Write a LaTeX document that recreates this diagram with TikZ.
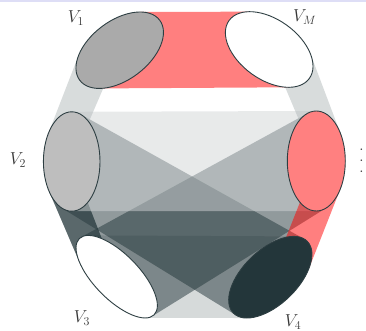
\documentclass[tikz,border=0pt]{standalone}
\usepackage{xcolor}
\definecolor{slate}{RGB}{35,54,58}
\definecolor{edgec}{RGB}{45,62,66}
\definecolor{lblc}{RGB}{55,55,55}
\definecolor{topline}{RGB}{222,222,246}
\definecolor{grayA}{RGB}{170,170,170}
\definecolor{grayB}{RGB}{190,190,190}
\definecolor{pinkc}{RGB}{255,128,128}

\newcommand\defell[6]{%
  \expandafter\def\csname ellx#1\endcsname{#2}%
  \expandafter\def\csname elly#1\endcsname{#3}%
  \expandafter\def\csname ella#1\endcsname{#4}%
  \expandafter\def\csname ellb#1\endcsname{#5}%
  \expandafter\def\csname ellt#1\endcsname{#6}}

\newcommand\suppt[3]{%
  \edef\eth{\csname ellt#1\endcsname}%
  \edef\ea{\csname ella#1\endcsname}%
  \edef\eb{\csname ellb#1\endcsname}%
  \edef\ecx{\csname ellx#1\endcsname}%
  \edef\ecy{\csname elly#1\endcsname}%
  \pgfmathsetmacro\cth{cos(\eth)}%
  \pgfmathsetmacro\sth{sin(\eth)}%
  \pgfmathsetmacro\nlx{(#2)*\cth+(#3)*\sth}%
  \pgfmathsetmacro\nly{-(#2)*\sth+(#3)*\cth}%
  \pgfmathsetmacro\den{sqrt((\ea*\nlx)^2+(\eb*\nly)^2)}%
  \pgfmathsetmacro\plx{\ea*\ea*\nlx/\den}%
  \pgfmathsetmacro\ply{\eb*\eb*\nly/\den}%
  \pgfmathsetmacro\spx{\ecx+\plx*\cth-\ply*\sth}%
  \pgfmathsetmacro\spy{\ecy+\plx*\sth+\ply*\cth}}

\newcommand\tangiter[3]{%
  \pgfmathsetmacro\dl{veclen(\ddx,\ddy)}%
  \pgfmathsetmacro\nnx{-(#3)*(\ddy)/\dl}%
  \pgfmathsetmacro\nny{(#3)*(\ddx)/\dl}%
  \suppt{#1}{\nnx}{\nny}\let\tAx\spx\let\tAy\spy
  \suppt{#2}{\nnx}{\nny}\let\tBx\spx\let\tBy\spy
  \pgfmathsetmacro\ddx{\tBx-(\tAx)}%
  \pgfmathsetmacro\ddy{\tBy-(\tAy)}}

\newcommand\tangside[3]{%
  \edef\xa{\csname ellx#1\endcsname}\edef\ya{\csname elly#1\endcsname}%
  \edef\xb{\csname ellx#2\endcsname}\edef\yb{\csname elly#2\endcsname}%
  \pgfmathsetmacro\ddx{\xb-(\xa)}%
  \pgfmathsetmacro\ddy{\yb-(\ya)}%
  \tangiter{#1}{#2}{#3}\tangiter{#1}{#2}{#3}\tangiter{#1}{#2}{#3}%
  \tangiter{#1}{#2}{#3}\tangiter{#1}{#2}{#3}\tangiter{#1}{#2}{#3}}

% full band: convex hull of the two ellipses
\newcommand\band[3]{%
  \tangside{#1}{#2}{1}%
  \let\pAx\tAx \let\pAy\tAy \let\pBx\tBx \let\pBy\tBy
  \tangside{#1}{#2}{-1}%
  \fill[#3] (\pAx,\pAy) -- (\pBx,\pBy) -- (\tBx,\tBy) -- (\tAx,\tAy) -- cycle;}

% half band: one side of the hull, up to the line of centres
\newcommand\halfband[4]{%
  \tangside{#1}{#2}{#3}%
  \fill[#4] (\tAx,\tAy) -- (\tBx,\tBy) -- (#2) -- (#1) -- cycle;}

\newcommand\drawell[2]{%
  \edef\eth{\csname ellt#1\endcsname}%
  \edef\ea{\csname ella#1\endcsname}%
  \edef\eb{\csname ellb#1\endcsname}%
  \draw[ellline, fill=#2, rotate around={\eth:(#1)}] (#1) ellipse [x radius=\ea, y radius=\eb];}

\tikzset{
  gband/.style={fill=slate!#1!white, fill opacity=0.5},
  dband/.style={fill=slate, fill opacity=#1},
  rband/.style={fill=red, fill opacity=0.5},
  ellline/.style={draw=edgec, line width=0.9pt},
  lbl/.style={text=lblc, font=\LARGE, inner sep=0pt}
}

\defell{V1}{11.97}{28.08}{5.0}{2.96}{36.9}
\defell{VM}{26.92}{28.15}{4.95}{3.0}{-35.8}
\defell{V2}{7.17}{16.95}{2.83}{4.97}{0}
\defell{VR}{31.63}{17.0}{2.9}{5.0}{0}
\defell{V3}{11.67}{5.43}{5.34}{2.25}{-45.6}
\defell{V4}{27.03}{5.38}{5.15}{2.73}{44}

\begin{document}
\begin{tikzpicture}[x=10pt,y=10pt]
\useasboundingbox (0,0) rectangle (36.6,33.1);
\fill[topline] (0,32.85) rectangle (36.6,33.1);

\foreach \n in {V1,VM,V2,VR,V3,V4}{%
  \coordinate (\n) at (\csname ellx\n\endcsname,\csname elly\n\endcsname);}

% bands, bottom layer first
\band{V3}{V4}{gband=37}
\halfband{V2}{V3}{-1}{dband=0.75}
\band{V2}{V4}{dband=0.5}
\band{VR}{V3}{dband=0.5}
\band{V2}{VR}{gband=21}
\halfband{V1}{V2}{-1}{gband=35}
\halfband{VM}{VR}{1}{gband=35}
\band{V1}{VM}{rband}
\halfband{VR}{V4}{1}{rband}

% ellipses
\drawell{V1}{grayA}
\drawell{VM}{white}
\drawell{V2}{grayB}
\drawell{VR}{pinkc}
\drawell{V3}{white}
\drawell{V4}{slate}

% labels
\node[lbl] (lV1) at (7.6,31.3) {$V_1$};
\node[lbl] (lVM) at (30.47,31.4) {$V_M$};
\node[lbl] (lV2) at (1.8,17.1) {$V_2$};
\node[lbl] (lV3) at (8.2,1.3) {$V_3$};
\node[lbl] (lV4) at (29.3,0.9) {$V_4$};
\node[text=lblc, inner sep=0pt, anchor=base] (dots) at (36.15,15.8)
  {\normalsize\bfseries\vbox{\baselineskip=11pt\lineskiplimit=0pt\hbox{.}\hbox{.}\hbox{.}}};
\end{tikzpicture}
\end{document}
